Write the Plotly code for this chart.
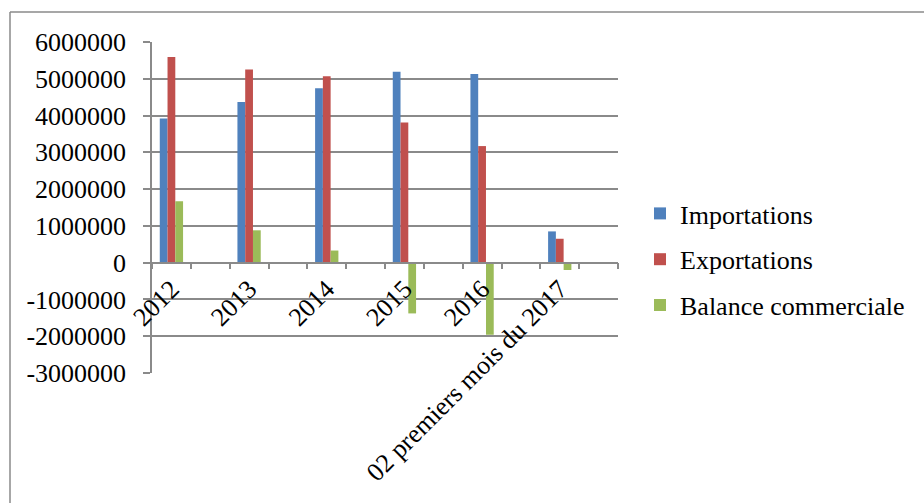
import plotly.graph_objects as go

categories = ["2012", "2013", "2014", "2015", "2016", "02 premiers mois du 2017"]
importations = [3920000, 4370000, 4740000, 5190000, 5130000, 850000]
exportations = [5590000, 5250000, 5070000, 3810000, 3170000, 650000]
balance = [1670000, 880000, 330000, -1380000, -1960000, -200000]
y_ticks = [6000000, 5000000, 4000000, 3000000, 2000000, 1000000, 0,
           -1000000, -2000000, -3000000]
y_ticklabels = ["6000000", "5000000", "4000000", "3000000", "2000000",
                "1000000", "0", "-1000000", "-2000000", "-3000000"]

series = [
    ("Importations", importations, "#4f81bd"),
    ("Exportations", exportations, "#c0504d"),
    ("Balance commerciale", balance, "#9bbb59"),
]

# each category occupies every other slot (empty slot between groups)
xpos = [2 * i for i in range(len(categories))]

FONT = "Liberation Serif, Times New Roman, serif"
GRID = "#8a8a8a"

fig = go.Figure()
for i, (name, vals, col) in enumerate(series):
    fig.add_trace(go.Bar(
        x=xpos, y=vals, name=name, legendgroup=f"g{i}",
        marker=dict(color=col, line=dict(width=0)),
    ))

L, R, T, B = 152, 618, 42, 373
W, H = 924, 503
pw, ph = R - L, B - T

def px(x):
    return (x - L) / pw

def py(y):
    return (B - y) / ph

fig.update_layout(
    width=W, height=H,
    margin=dict(l=L, r=W - R, t=T, b=H - B, pad=0),
    paper_bgcolor="white", plot_bgcolor="white",
    barmode="group", bargap=0.70, bargroupgap=0,
    font=dict(family=FONT, size=26, color="black"),
    showlegend=True,
    legend=dict(
        x=px(640), y=py(190), xanchor="left", yanchor="top",
        font=dict(family=FONT, size=26, color="black"),
        tracegroupgap=9, itemwidth=30, bgcolor="rgba(0,0,0,0)",
    ),
    xaxis=dict(
        range=[-0.5, 11.5],
        tickmode="array", tickvals=xpos, ticktext=categories,
        tickangle=-45, ticks="",
        anchor="free", position=3 / 9,
        showline=True, linecolor=GRID, linewidth=1.5,
        showgrid=False, zeroline=False,
        minor=dict(ticks="outside", tick0=-0.5, dtick=1, ticklen=6,
                   tickcolor=GRID, tickwidth=1.5, showgrid=False),
        tickfont=dict(family=FONT, size=26, color="black"),
    ),
    yaxis=dict(
        range=[-3000000, 6000000],
        tickmode="array", tickvals=y_ticks, ticktext=y_ticklabels,
        showgrid=True, gridcolor=GRID, gridwidth=1.5,
        zeroline=False,
        showline=True, linecolor=GRID, linewidth=1.5,
        ticks="outside", ticklen=7, tickcolor=GRID, tickwidth=1.5,
        ticklabelstandoff=12,
        tickfont=dict(family=FONT, size=26, color="black"),
    ),
    shapes=[
        dict(type="line", xref="paper", yref="paper",
             x0=px(10), x1=px(930), y0=py(12), y1=py(12),
             line=dict(color=GRID, width=1.5)),
        dict(type="line", xref="paper", yref="paper",
             x0=px(10), x1=px(10), y0=py(12), y1=py(510),
             line=dict(color=GRID, width=1.5)),
    ],
)

fig.write_html("out.html")
